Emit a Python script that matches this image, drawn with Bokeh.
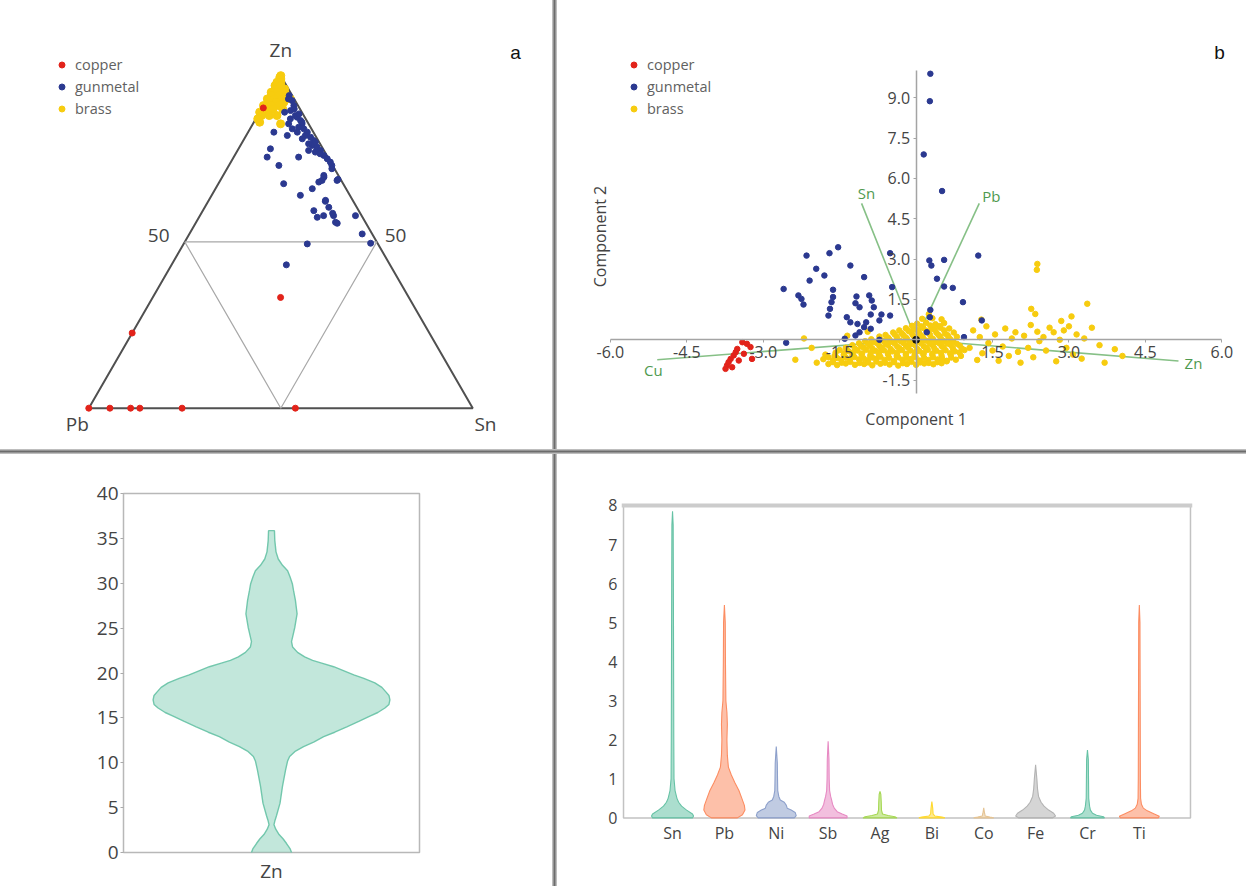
import math
from bokeh.plotting import figure
from bokeh.models import (Range1d, LinearAxis, FixedTicker, NumeralTickFormatter,
                          Label, Legend, LegendItem, Span, Div)
from bokeh.layouts import row, column
from bokeh.embed import file_html
from bokeh.resources import INLINE
from bokeh.core.properties import value

FONT = "Open Sans"
TXT = "#444444"
COL_CU = "#e2231a"
COL_GUN = "#2b3990"
COL_BRASS = "#f7cc0f"
class_names = ["copper", "gunmetal", "brass"]

# ---------------- panel a : ternary Zn / Sn / Pb (normalised %) ----------------
a_copper_zn = [90.3, 33.3, 22.6, 0.0, 0.0, 0.0, 0.0, 0.0, 0.0]
a_copper_sn = [0.3, 33.3, 0.0, 0.0, 5.5, 10.9, 13.3, 24.3, 53.8]
a_copper_pb = [9.4, 33.4, 77.4, 100.0, 94.5, 89.1, 86.7, 75.7, 46.2]

a_gun_zn = [92.5, 91.0, 89.5, 88.0, 87.5, 86.5, 85.5, 84.5, 84.0, 83.0,
            82.0, 81.5, 80.5, 79.0, 78.5, 77.5, 77.0, 76.0, 75.0, 74.0,
            73.0, 77.5, 81.0, 83.0, 87.0, 85.5, 83.0, 82.0, 78.0, 75.5,
            75.5, 73.0, 67.5, 64.0, 66.0, 70.0, 68.5, 68.5, 62.5, 60.4,
            59.4, 57.4, 57.9, 57.9, 55.6, 57.9, 52.4, 49.6, 49.4, 43.1,
            68.8, 69.5, 68.0, 62.2, 58.6, 55.9, 94.0, 93.0, 90.0, 88.5,
            86.0, 80.0, 79.5, 76.5, 72.0, 89.0, 84.0]
a_gun_sn = [6.7, 7.9, 7.8, 9.8, 10.5, 11.9, 12.8, 12.4, 14.0, 15.4,
            15.4, 17.0, 18.3, 18.7, 20.2, 21.6, 20.5, 23.2, 24.6, 25.9,
            26.8, 18.5, 15.1, 12.8, 9.0, 9.3, 6.7, 10.7, 8.3, 8.7,
            16.9, 13.0, 17.0, 23.1, 25.2, 26.2, 26.5, 30.4, 30.4, 32.3,
            28.9, 30.8, 32.2, 34.8, 36.9, 40.5, 45.0, 48.6, 32.2, 29.9,
            30.5, 26.5, 25.9, 30.5, 34.2, 36.3, 5.2, 5.5, 8.5, 10.5,
            12.5, 19.0, 17.5, 22.0, 27.3, 6.5, 11.0]
a_gun_pb = [0.8, 1.1, 2.7, 2.2, 2.0, 1.6, 1.7, 3.1, 2.0, 1.6,
            2.6, 1.5, 1.2, 2.3, 1.3, 0.9, 2.5, 0.8, 0.4, 0.1,
            0.2, 4.0, 3.9, 4.2, 4.0, 5.2, 10.3, 7.3, 13.7, 15.8,
            7.6, 14.0, 15.5, 12.9, 8.8, 3.8, 5.0, 1.1, 7.1, 7.3,
            11.7, 11.8, 9.9, 7.3, 7.5, 1.6, 2.6, 1.8, 18.4, 27.0,
            0.7, 4.0, 6.1, 7.3, 7.2, 7.8, 0.8, 1.5, 1.5, 1.0,
            1.5, 1.0, 3.0, 1.5, 0.7, 4.5, 5.0]

a_brass_zn = [100, 99.5, 99, 98, 98, 97, 97, 96, 96, 96, 95, 95, 95, 94, 94, 94, 93, 93, 93,
              93, 92, 92, 92, 91, 91, 91, 90, 90, 90, 89, 89, 88, 88, 88, 87, 86, 85.5]
a_brass_sn = [0, 0, 0.5, 0, 1, 0, 1.5, 0.5, 2.5, 3, 0, 1.5, 3.5, 0.5, 2.5, 4.5, 0, 1.8, 3.8,
              6, 0.8, 2.8, 4.8, 0, 2, 4, 1, 3, 5.5, 0, 2, 1, 3, 5, 0.5, 1.5, 7.2]
a_brass_pb = [0, 0.5, 0.5, 2, 1, 3, 1.5, 3.5, 1.5, 1, 5, 3.5, 1.5, 5.5, 3.5, 1.5, 7, 5.2, 3.2,
              1, 7.2, 5.2, 3.2, 9, 7, 5, 9, 7, 4.5, 11, 9, 11, 9, 7, 12.5, 12.5, 7.3]

# ---------------- panel b : PCA biplot ----------------
b_xticks = [-6.0, -4.5, -3.0, -1.5, 1.5, 3.0, 4.5, 6.0]
b_yticks = [-1.5, 1.5, 3.0, 4.5, 6.0, 7.5, 9.0]

b_cu_x = [-3.71, -3.68, -3.64, -3.58, -3.54, -3.51, -3.48, -3.41, -3.32, -3.25, -3.22, -3.38, -3.61, -3.74]
b_cu_y = [-0.95, -0.83, -0.71, -0.58, -0.46, -0.34, -0.77, -0.09, -0.15, -0.27, -0.71, -0.52, -1.02, -1.08]

b_gun_x = [0.28, 0.27, 0.15, 0.51, 1.22, -2.15, -1.70, -1.53, -1.96, -1.80,
           -2.09, -1.29, -1.02, -1.63, -2.60, -2.31, -2.25, -2.21, -1.63, -1.66,
           -1.69, -1.72, -1.17, -1.19, -1.11, -0.92, -0.87, -0.83, -0.89, -0.68,
           -0.51, -0.72, -1.36, -1.29, -1.15, -1.02, -0.89, -1.11, -1.19, -0.98,
           -1.40, -2.55, -0.72, 0.94, 0.26, 0.30, 0.55, 0.41, 0.55, 0.72,
           0.92, 1.29, 0.27, -0.47, 0.28, 0.21, -0.51]
b_gun_y = [9.89, 8.87, 6.89, 5.53, 3.13, 3.13, 3.22, 3.44, 2.64, 2.39,
           2.20, 2.76, 2.33, 1.86, 1.89, 1.65, 1.52, 1.31, 1.59, 1.40,
           1.15, 0.90, 1.61, 1.36, 1.21, 1.65, 1.46, 1.21, 0.94, 0.94,
           0.90, 0.72, 0.84, 0.65, 0.59, 0.47, 0.41, 0.28, 0.16, 0.65,
           0.04, -0.11, 0.0, 0.10, 2.95, 2.76, 2.97, 2.27, 1.98, 1.93,
           1.40, 0.72, 0.84, 1.96, 1.11, 0.28, 3.22]

b_brass_core_x = [-1.72, -1.55, -1.38, -1.2, -1.02, -0.86, -0.7, -0.52, -0.35, -0.18, 0.0, 0.16, 0.34, 0.5,
                  -1.82, -1.63, -1.47, -1.3, -1.12, -0.95, -0.78, -0.62, -0.44, -0.27, -0.1, 0.07, 0.24, 0.42, 0.6, 0.78,
                  -1.78, -1.6, -1.42, -1.25, -1.07, -0.9, -0.73, -0.55, -0.38, -0.2, -0.03, 0.14, 0.32, 0.5, 0.68, 0.88,
                  -1.5, -1.33, -1.15, -0.98, -0.8, -0.63, -0.46, -0.28, -0.11, 0.06, 0.23, 0.4, 0.58, 0.76, 0.95,
                  -1.25, -1.08, -0.9, -0.72, -0.55, -0.37, -0.2, -0.02, 0.15, 0.33, 0.5, 0.68, 0.86,
                  -1.0, -0.82, -0.64, -0.47, -0.3, -0.13, 0.04, 0.21, 0.38, 0.55, 0.73,
                  -0.72, -0.55, -0.38, -0.2, -0.04, 0.13, 0.3, 0.47, 0.64, 0.8,
                  -0.45, -0.28, -0.1, 0.06, 0.23, 0.4, 0.57, 0.74,
                  -0.2, -0.03, 0.14, 0.31, 0.48, 0.65,
                  0.02, 0.2, 0.38, 0.55,
                  0.12, 0.32, 0.5,
                  0.25]
b_brass_core_y = [-0.9, -0.94, -0.88, -0.93, -0.9, -0.95, -0.89, -0.92, -0.96, -0.9, -0.93, -0.88, -0.91, -0.87,
                  -0.72, -0.77, -0.74, -0.78, -0.73, -0.76, -0.71, -0.75, -0.79, -0.74, -0.72, -0.77, -0.75, -0.73, -0.78, -0.74,
                  -0.55, -0.6, -0.56, -0.58, -0.54, -0.59, -0.57, -0.55, -0.6, -0.56, -0.58, -0.54, -0.57, -0.59, -0.55, -0.6,
                  -0.38, -0.42, -0.4, -0.37, -0.41, -0.39, -0.43, -0.38, -0.4, -0.42, -0.37, -0.41, -0.39, -0.43, -0.38,
                  -0.2, -0.24, -0.21, -0.23, -0.19, -0.25, -0.22, -0.2, -0.24, -0.21, -0.23, -0.19, -0.22,
                  -0.05, -0.08, -0.04, -0.07, -0.05, -0.09, -0.06, -0.04, -0.08, -0.05, -0.07,
                  0.12, 0.08, 0.11, 0.09, 0.13, 0.1, 0.07, 0.12, 0.09, 0.11,
                  0.27, 0.24, 0.28, 0.25, 0.29, 0.26, 0.23, 0.27,
                  0.43, 0.4, 0.44, 0.41, 0.45, 0.42,
                  0.6, 0.63, 0.58, 0.62,
                  0.78, 0.8, 0.76,
                  0.95]
b_brass_fill_x = [-1.63, -1.46, -1.29, -1.11, -0.94, -0.78, -0.61, -0.43, -0.26, -0.09, 0.08, 0.25, 0.42, 0.6,
                  -1.72, -1.55, -1.38, -1.21, -1.03, -0.86, -0.7, -0.53, -0.35, -0.18, -0.01, 0.16, 0.33, 0.51, 0.69,
                  -1.58, -1.41, -1.24, -1.06, -0.89, -0.72, -0.55, -0.37, -0.2, -0.02, 0.15, 0.32, 0.49, 0.67, 0.85,
                  -1.38, -1.2, -1.03, -0.86, -0.68, -0.5, -0.33, -0.16, 0.02, 0.19, 0.36, 0.54, 0.72, 0.9,
                  -1.12, -0.94, -0.77, -0.6, -0.42, -0.25, -0.08, 0.1, 0.27, 0.45, 0.62, 0.8,
                  -0.88, -0.7, -0.53, -0.36, -0.18, -0.01, 0.16, 0.33, 0.5, 0.67,
                  -0.6, -0.42, -0.25, -0.07, 0.1, 0.27, 0.44, 0.62,
                  -0.33, -0.15, 0.02, 0.2, 0.37, 0.55,
                  -0.08, 0.1, 0.28, 0.46]
b_brass_fill_y = [-0.83, -0.85, -0.82, -0.86, -0.84, -0.81, -0.85, -0.83, -0.87, -0.82, -0.84, -0.86, -0.83, -0.8,
                  -0.65, -0.68, -0.66, -0.64, -0.69, -0.66, -0.63, -0.67, -0.65, -0.68, -0.64, -0.67, -0.65, -0.69, -0.66,
                  -0.48, -0.5, -0.47, -0.51, -0.49, -0.46, -0.5, -0.48, -0.52, -0.47, -0.49, -0.51, -0.48, -0.5, -0.47,
                  -0.3, -0.33, -0.29, -0.32, -0.3, -0.34, -0.31, -0.29, -0.33, -0.3, -0.32, -0.28, -0.31, -0.33,
                  -0.13, -0.15, -0.12, -0.16, -0.14, -0.12, -0.15, -0.13, -0.16, -0.12, -0.14, -0.15,
                  0.02, 0.0, 0.03, 0.01, 0.04, 0.02, 0.0, 0.03, 0.01, 0.02,
                  0.18, 0.2, 0.17, 0.19, 0.16, 0.2, 0.18, 0.17,
                  0.35, 0.33, 0.36, 0.34, 0.37, 0.35,
                  0.52, 0.5, 0.53, 0.51]
b_brass_right_x = [1.05, 1.12, 1.2, 1.25, 1.3, 1.38, 1.42, 1.5, 1.55, 1.62, 1.7, 1.75, 1.82, 1.88, 1.95,
                   2.0, 2.05, 2.12, 2.2, 2.25, 2.3, 2.38, 2.42, 2.5, 2.55, 2.62, 2.7, 2.75, 2.82, 2.9,
                   2.95, 3.0, 3.08, 3.15, 3.25, 3.3, 3.45, 3.6, 3.7, 3.9, 4.05,
                   2.38, 2.37, 3.36, 3.05, 2.26, 2.34, 1.28, 2.85,
                   -2.37, -2.05, -1.95, -2.2, -1.35, -0.95]
b_brass_right_y = [-0.3, 0.35, -0.75, 0.1, -0.5, 0.5, -0.12, -0.4, 0.2, -0.78, -0.25, 0.42, -0.6, 0.05, 0.28,
                   -0.45, -0.85, 0.15, -0.3, 0.55, -0.65, 0.3, -0.05, 0.1, -0.4, 0.45, 0.28, -0.8, 0.0, 0.35,
                   -0.3, 0.5, -0.55, 0.2, -0.7, 0.05, 0.45, -0.2, -0.85, -0.35, -0.6,
                   2.82, 2.6, 1.34, 0.87, 1.15, 0.96, 0.75, 0.7,
                   -0.74, -0.3, -0.85, 0.05, 0.15, 0.3]

load_names = ["Cu", "Zn", "Sn", "Pb"]
load_x = [-5.08, 5.15, -1.07, 1.24]
load_y = [-0.74, -0.79, 5.07, 5.07]
load_origin = [0.0]

# ---------------- panel c : Zn violin ----------------
c_zn_level = [-1.0, 0.0, 0.4, 1.0, 1.5, 2.0, 2.6, 3.1, 3.6, 4.1, 5.5, 7.4, 9.2, 10.2, 10.7,
              11.3, 11.8, 12.3, 12.9, 13.4, 14.0, 14.6, 15.2, 15.6, 16.1, 16.5, 17.0, 17.5,
              17.9, 18.4, 18.9, 19.4, 19.8, 20.3, 20.7, 21.1, 21.4, 21.8, 22.3, 22.9, 23.5,
              24.0, 25.1, 26.6, 28.1, 29.2, 29.95, 30.7, 31.4, 32.0, 32.7, 33.5, 34.75, 35.86]
c_zn_density = [0.186, 0.169, 0.158, 0.127, 0.099, 0.064, 0.036, 0.021, 0.030, 0.042, 0.072, 0.093,
                0.119, 0.136, 0.153, 0.203, 0.271, 0.356, 0.441, 0.534, 0.636, 0.737, 0.831, 0.898,
                0.958, 0.992, 1.0, 0.992, 0.966, 0.932, 0.873, 0.780, 0.695, 0.602, 0.525, 0.424,
                0.347, 0.280, 0.220, 0.178, 0.169, 0.178, 0.197, 0.216, 0.202, 0.186, 0.176, 0.157,
                0.136, 0.093, 0.057, 0.038, 0.028, 0.025]
c_yticks = [0, 5, 10, 15, 20, 25, 30, 35, 40]

# ---------------- panel d : minor element violins ----------------
d_names = ["Sn", "Pb", "Ni", "Sb", "Ag", "Bi", "Co", "Fe", "Cr", "Ti"]
d_colors = ["#66c2a5", "#fc8d62", "#8da0cb", "#e78ac3", "#a6d854",
            "#ffd92f", "#e5c494", "#b3b3b3", "#66c2a5", "#fc8d62"]
sn_lv = [0, 0.05, 0.1, 0.2, 0.3, 0.4, 0.5, 0.7, 1.0, 2.0, 4.0, 6.0, 7.5, 7.85]
sn_dn = [0.95, 1.0, 0.95, 0.67, 0.43, 0.29, 0.21, 0.12, 0.07, 0.06, 0.05, 0.04, 0.03, 0.0]
pb_lv = [0, 0.08, 0.2, 0.32, 0.5, 0.7, 0.9, 1.1, 1.3, 1.6, 2.0, 2.4, 2.7, 3.0, 4.0, 5.0, 5.45]
pb_dn = [0.62, 0.86, 0.98, 0.95, 0.83, 0.69, 0.5, 0.33, 0.19, 0.14, 0.12, 0.14, 0.12, 0.07, 0.05, 0.04, 0.0]
ni_lv = [0, 0.06, 0.14, 0.2, 0.25, 0.32, 0.4, 0.46, 0.55, 0.7, 1.0, 1.4, 1.83]
ni_dn = [0.86, 0.95, 0.9, 0.71, 0.52, 0.48, 0.38, 0.19, 0.12, 0.07, 0.06, 0.05, 0.0]
sb_lv = [0, 0.05, 0.1, 0.16, 0.25, 0.35, 0.45, 0.55, 0.7, 1.0, 1.5, 1.96]
sb_dn = [0.9, 0.9, 0.67, 0.43, 0.29, 0.21, 0.17, 0.12, 0.07, 0.05, 0.04, 0.0]
ag_lv = [0, 0.03, 0.06, 0.1, 0.2, 0.4, 0.6, 0.68]
ag_dn = [0.81, 0.71, 0.38, 0.12, 0.07, 0.06, 0.04, 0.0]
bi_lv = [0, 0.02, 0.05, 0.1, 0.25, 0.42]
bi_dn = [0.62, 0.48, 0.14, 0.06, 0.04, 0.0]
co_lv = [0, 0.02, 0.05, 0.12, 0.26]
co_dn = [0.48, 0.29, 0.07, 0.04, 0.0]
fe_lv = [0, 0.05, 0.12, 0.2, 0.3, 0.4, 0.55, 0.75, 1.0, 1.36]
fe_dn = [0.81, 0.95, 0.86, 0.62, 0.4, 0.26, 0.14, 0.09, 0.06, 0.0]
cr_lv = [0, 0.03, 0.07, 0.12, 0.2, 0.3, 0.5, 1.0, 1.5, 1.74]
cr_dn = [0.81, 0.76, 0.43, 0.24, 0.14, 0.1, 0.06, 0.05, 0.04, 0.0]
ti_lv = [0, 0.04, 0.1, 0.18, 0.25, 0.35, 0.5, 1.0, 3.0, 5.0, 5.45]
ti_dn = [0.9, 0.95, 0.71, 0.38, 0.19, 0.1, 0.06, 0.05, 0.04, 0.03, 0.0]
d_yticks = [0, 1, 2, 3, 4, 5, 6, 7, 8]


# ======================================================================
def tern(zn, sn, pb):
    xs, ys = [], []
    for z, s, b in zip(zn, sn, pb):
        t = z + s + b
        xs.append(100.0 * (s + 0.5 * z) / t)
        ys.append(100.0 * (z / t) * math.sqrt(3) / 2)
    return xs, ys


def base_fig(w, h, xr, yr, **kw):
    p = figure(width=w, height=h, x_range=xr, y_range=yr, output_backend="svg",
               toolbar_location=None, **kw)
    p.grid.visible = False
    p.background_fill_color = "white"
    p.border_fill_color = "white"
    return p


def add_legend(p, rends, loc):
    leg = Legend(items=[LegendItem(label=n, renderers=[r]) for n, r in zip(class_names, rends)],
                 location=loc, orientation="vertical", padding=0, margin=0, spacing=3,
                 glyph_height=15, glyph_width=15, label_height=15, label_standoff=6,
                 label_text_font=FONT, label_text_font_size="14.5px", label_text_color="#616161",
                 background_fill_alpha=0, border_line_alpha=0)
    p.add_layout(leg)


def letter(p, txt, x, y, units="screen"):
    p.add_layout(Label(x=x, y=y, x_units=units, y_units=units, text=txt,
                       text_font="Liberation Sans", text_font_size="19px", text_color="#111111",
                       text_align="center", text_baseline="middle"))


TOP_H = 449
BOT_H = 432

# ---------------- panel a ----------------
pa = base_fig(552, TOP_H, Range1d(-22.99, 120.76), Range1d(-10.76, 106.17),
              x_axis_location=None, y_axis_location=None, min_border=0)
pa.outline_line_color = None
H = 100 * math.sqrt(3) / 2
pa.line([0, 100, 50, 0], [0, 0, H, 0], line_color="#505050", line_width=2)
pa.line([25, 75, 50, 25], [H / 2, H / 2, 0, H / 2], line_color="#a8a8a8", line_width=1.2)
bx, by = tern(a_brass_zn, a_brass_sn, a_brass_pb)
r_a_brass = pa.scatter(bx, by, size=8, color=COL_BRASS)
gx, gy = tern(a_gun_zn, a_gun_sn, a_gun_pb)
r_a_gun = pa.scatter(gx, gy, size=6, color=COL_GUN)
cx, cy = tern(a_copper_zn, a_copper_sn, a_copper_pb)
r_a_cu = pa.scatter(cx, cy, size=6, color=COL_CU)
add_legend(pa, [r_a_cu, r_a_gun, r_a_brass], (54, 331))
for t, x, y in [("Zn", 50.0, 93.3), ("50", 18.2, 45.0), ("50", 79.9, 45.0),
                ("Pb", -3.0, -4.2), ("Sn", 103.3, -4.2)]:
    pa.add_layout(Label(x=x, y=y, text=t, text_font=FONT, text_font_size="19px",
                        text_color=TXT, text_align="center", text_baseline="middle"))
letter(pa, "a", 515, TOP_H - 52)

# ---------------- panel b ----------------
pbb = base_fig(689, TOP_H, Range1d(-7.038, 6.485), Range1d(-4.078, 12.613),
               x_axis_location=None, y_axis_location=None, min_border=0)
pbb.outline_line_color = None
xax = LinearAxis(fixed_location=0, ticker=FixedTicker(ticks=b_xticks),
                 formatter=NumeralTickFormatter(format="0.0"), bounds=(-6, 6))
yax = LinearAxis(fixed_location=0, ticker=FixedTicker(ticks=b_yticks),
                 formatter=NumeralTickFormatter(format="0.0"), bounds=(-2, 10))
for ax in (xax, yax):
    ax.axis_line_color = "#a4a4a4"
    ax.axis_line_width = 1.5
    ax.major_tick_line_color = "#a4a4a4"
    ax.major_tick_out = 3
    ax.major_tick_in = 0
    ax.minor_tick_line_color = None
    ax.major_label_text_font = FONT
    ax.major_label_text_font_size = "16px"
    ax.major_label_text_color = TXT
    ax.major_label_standoff = 3
pbb.add_layout(xax, "below")
pbb.add_layout(yax, "left")

pbb.multi_line([[0, lx] for lx in load_x], [[0, ly] for ly in load_y],
               line_color="#86c086", line_width=1.6)
r_b_brass = pbb.scatter(b_brass_core_x + b_brass_fill_x + b_brass_right_x,
                        b_brass_core_y + b_brass_fill_y + b_brass_right_y,
                        size=5.5, color=COL_BRASS)
r_b_gun = pbb.scatter(b_gun_x, b_gun_y, size=5.5, color=COL_GUN)
r_b_cu = pbb.scatter(b_cu_x, b_cu_y, size=5.5, color=COL_CU)
pbb.scatter(load_origin, load_origin, size=7, color="#111111")
# loading labels: pixel offsets from the arrow tips
lab_dx = [-4, 15, 5, 12]
lab_dy = [10, 2, -10, -7]
pbb.text([lx + dx / 50.95 for lx, dx in zip(load_x, lab_dx)],
         [ly - dy / 26.9 for ly, dy in zip(load_y, lab_dy)],
         text=load_names, text_font=value(FONT), text_font_size="15px",
         text_color="#4f9a4f", text_align="center", text_baseline="middle")
add_legend(pbb, [r_b_cu, r_b_gun, r_b_brass], (69, 331))
pbb.add_layout(Label(x=358.6, y=TOP_H - 418.3, x_units="screen", y_units="screen", text="Component 1",
                     text_font=FONT, text_font_size="16px", text_color=TXT,
                     text_align="center", text_baseline="middle"))
pbb.add_layout(Label(x=42, y=TOP_H - 236, x_units="screen", y_units="screen", text="Component 2",
                     angle=math.pi / 2, text_font=FONT, text_font_size="16px", text_color=TXT,
                     text_align="center", text_baseline="middle"))
letter(pbb, "b", 662, TOP_H - 52)

# ---------------- panel c ----------------
pc = base_fig(552, BOT_H, Range1d(-1, 1), Range1d(0, 40),
              min_border_left=123, min_border_right=133, min_border_top=39, min_border_bottom=33)
pc.outline_line_color = "#b8b8b8"
pc.outline_line_width = 1.5
W_C = 0.8
half = [d * W_C for d in c_zn_density]
pc.patch([h for h in half] + [-h for h in reversed(half)],
         c_zn_level + c_zn_level[::-1],
         fill_color="#66c2a5", fill_alpha=0.4, line_color="#66c2a5", line_alpha=0.9, line_width=1.4)
pc.xaxis.ticker = FixedTicker(ticks=[0])
pc.xaxis.major_label_overrides = {0: "Zn"}
pc.yaxis.ticker = FixedTicker(ticks=c_yticks)
for ax in (pc.xaxis[0], pc.yaxis[0]):
    ax.axis_line_color = None
    ax.minor_tick_line_color = None
    ax.major_label_text_font = FONT
    ax.major_label_text_font_size = "19px"
    ax.major_label_text_color = TXT
pc.xaxis.major_tick_line_color = None
pc.xaxis.major_tick_out = 0
pc.xaxis.major_label_standoff = 5
pc.yaxis.major_tick_line_color = "#aaaaaa"
pc.yaxis.major_tick_out = 3
pc.yaxis.major_tick_in = 0
pc.yaxis.major_label_standoff = 2
letter(pc, "c", 1.65, 40.14, units="data")

# ---------------- panel d ----------------
# frame shares c's vertical extent (row frames align); the d box is drawn inside it
d_box_x = (-0.945, 9.986)
d_box_y = (0, 8)
pdd = base_fig(689, BOT_H, Range1d(-0.984, 10.025), Range1d(-0.886, 8.306),
               min_border_left=64, min_border_right=54, min_border_top=39, min_border_bottom=33)
pdd.outline_line_color = None
pdd.quad(left=[d_box_x[0]], right=[d_box_x[1]], bottom=[d_box_y[0]], top=[d_box_y[1]],
         fill_color=None, line_color="#c2c2c2", line_width=1.5)
pdd.add_layout(Span(location=d_box_y[1], dimension="width", line_color="#cccccc", line_width=4))
W_D = 0.405
d_levels = [sn_lv, pb_lv, ni_lv, sb_lv, ag_lv, bi_lv, co_lv, fe_lv, cr_lv, ti_lv]
d_dens = [sn_dn, pb_dn, ni_dn, sb_dn, ag_dn, bi_dn, co_dn, fe_dn, cr_dn, ti_dn]
for i, (lv, dn, col) in enumerate(zip(d_levels, d_dens, d_colors)):
    hw = [d * W_D for d in dn]
    pdd.patch([i + h for h in hw] + [i - h for h in reversed(hw)], lv + lv[::-1],
              fill_color=col, fill_alpha=0.55, line_color=col, line_width=1.1)
pdd.xaxis.visible = False
dxax = LinearAxis(fixed_location=0, ticker=FixedTicker(ticks=list(range(len(d_names)))),
                  major_label_overrides={i: n for i, n in enumerate(d_names)})
pdd.add_layout(dxax, "below")
pdd.yaxis.ticker = FixedTicker(ticks=d_yticks)
for ax in (dxax, pdd.yaxis[0]):
    ax.axis_line_color = None
    ax.minor_tick_line_color = None
    ax.major_tick_line_color = None
    ax.major_tick_out = 0
    ax.major_tick_in = 0
    ax.major_label_text_font = FONT
    ax.major_label_text_font_size = "16px"
    ax.major_label_text_color = TXT
dxax.major_label_standoff = 4
pdd.yaxis.major_label_standoff = 4
letter(pdd, "d", 10.53, 8.36, units="data")

# ---------------- layout with divider bars ----------------
def vbar(h):
    return Div(text="", width=5, height=h, margin=0,
               styles={"background": "linear-gradient(90deg, #d2d2d2, #6c6c6c 50%, #d2d2d2)"})


hbar = Div(text="", width=1246, height=5, margin=0,
           styles={"background": "linear-gradient(180deg, #d2d2d2, #6c6c6c 50%, #d2d2d2)"})

layout = column(row(pa, vbar(TOP_H), pbb), hbar, row(pc, vbar(BOT_H), pdd))

with open("out.html", "w") as f:
    f.write(file_html(layout, INLINE))
